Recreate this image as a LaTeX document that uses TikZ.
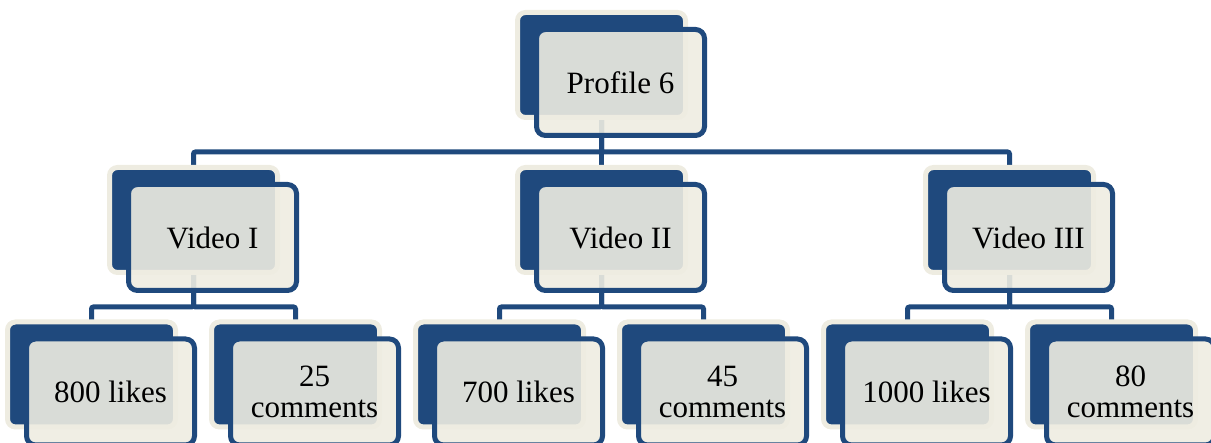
\documentclass[tikz,border=0pt]{standalone}
\usepackage{fontspec}
\setmainfont{Liberation Serif}
\definecolor{navy}{HTML}{1F497D}
\definecolor{cream}{HTML}{EEECE1}
\pgfdeclarelayer{bg}
\pgfsetlayers{bg,main}
\tikzset{
  backbox/.style={draw=cream, line width=5pt, fill=navy, rounded corners=8pt,
    minimum width=168pt, minimum height=105pt, inner sep=0pt},
  frontbox/.style={draw=navy, line width=5pt, fill=cream, fill opacity=0.9,
    text opacity=1, rounded corners=9pt, minimum width=168pt, minimum height=106pt,
    inner sep=0pt, align=center, font=\fontsize{31}{31}\selectfont},
  conn/.style={draw=navy, line width=5pt, rounded corners=2pt}
}
\begin{document}
\begin{tikzpicture}[x=1pt,y=-1pt]
\useasboundingbox (0,0) rectangle (1211,443);
\clip (0,0) rectangle (1211,443);
% level 1
\node[backbox] (Pb) at (601.5,65) {};
\node[frontbox] (Pf) at (620.5,82.5) {Profile 6};
% level 2
\node[backbox] (V1b) at (193.5,220) {};
\node[frontbox] (V1f) at (212.5,237.5) {Video I};
\node[backbox] (V2b) at (601.5,220) {};
\node[frontbox] (V2f) at (620.5,237.5) {Video II};
\node[backbox] (V3b) at (1009.5,220) {};
\node[frontbox] (V3f) at (1028.5,237.5) {Video III};
% level 3
\node[backbox] (L1b) at (91.5,374.5) {};
\node[frontbox] (L1f) at (110.5,392) {800 likes};
\node[backbox] (C1b) at (295.5,374.5) {};
\node[frontbox] (C1f) at (314.5,392) {25\\comments};
\node[backbox] (L2b) at (499.5,374.5) {};
\node[frontbox] (L2f) at (518.5,392) {700 likes};
\node[backbox] (C2b) at (703.5,374.5) {};
\node[frontbox] (C2f) at (722.5,392) {45\\comments};
\node[backbox] (L3b) at (907.5,374.5) {};
\node[frontbox] (L3f) at (926.5,392) {1000 likes};
\node[backbox] (C3b) at (1111.5,374.5) {};
\node[frontbox] (C3f) at (1130.5,392) {80\\comments};
\begin{pgfonlayer}{bg}
\coordinate (bar1) at (0,152);
\coordinate (bar2) at (0,307);
\foreach \c in {V1b,V2b,V3b}
  \draw[conn] (Pb.center) -- (Pb.center |- bar1) -| (\c.center);
\foreach \p/\c in {V1b/L1b,V1b/C1b,V2b/L2b,V2b/C2b,V3b/L3b,V3b/C3b}
  \draw[conn] (\p.center) -- (\p.center |- bar2) -| (\c.center);
\end{pgfonlayer}
\end{tikzpicture}
\end{document}
